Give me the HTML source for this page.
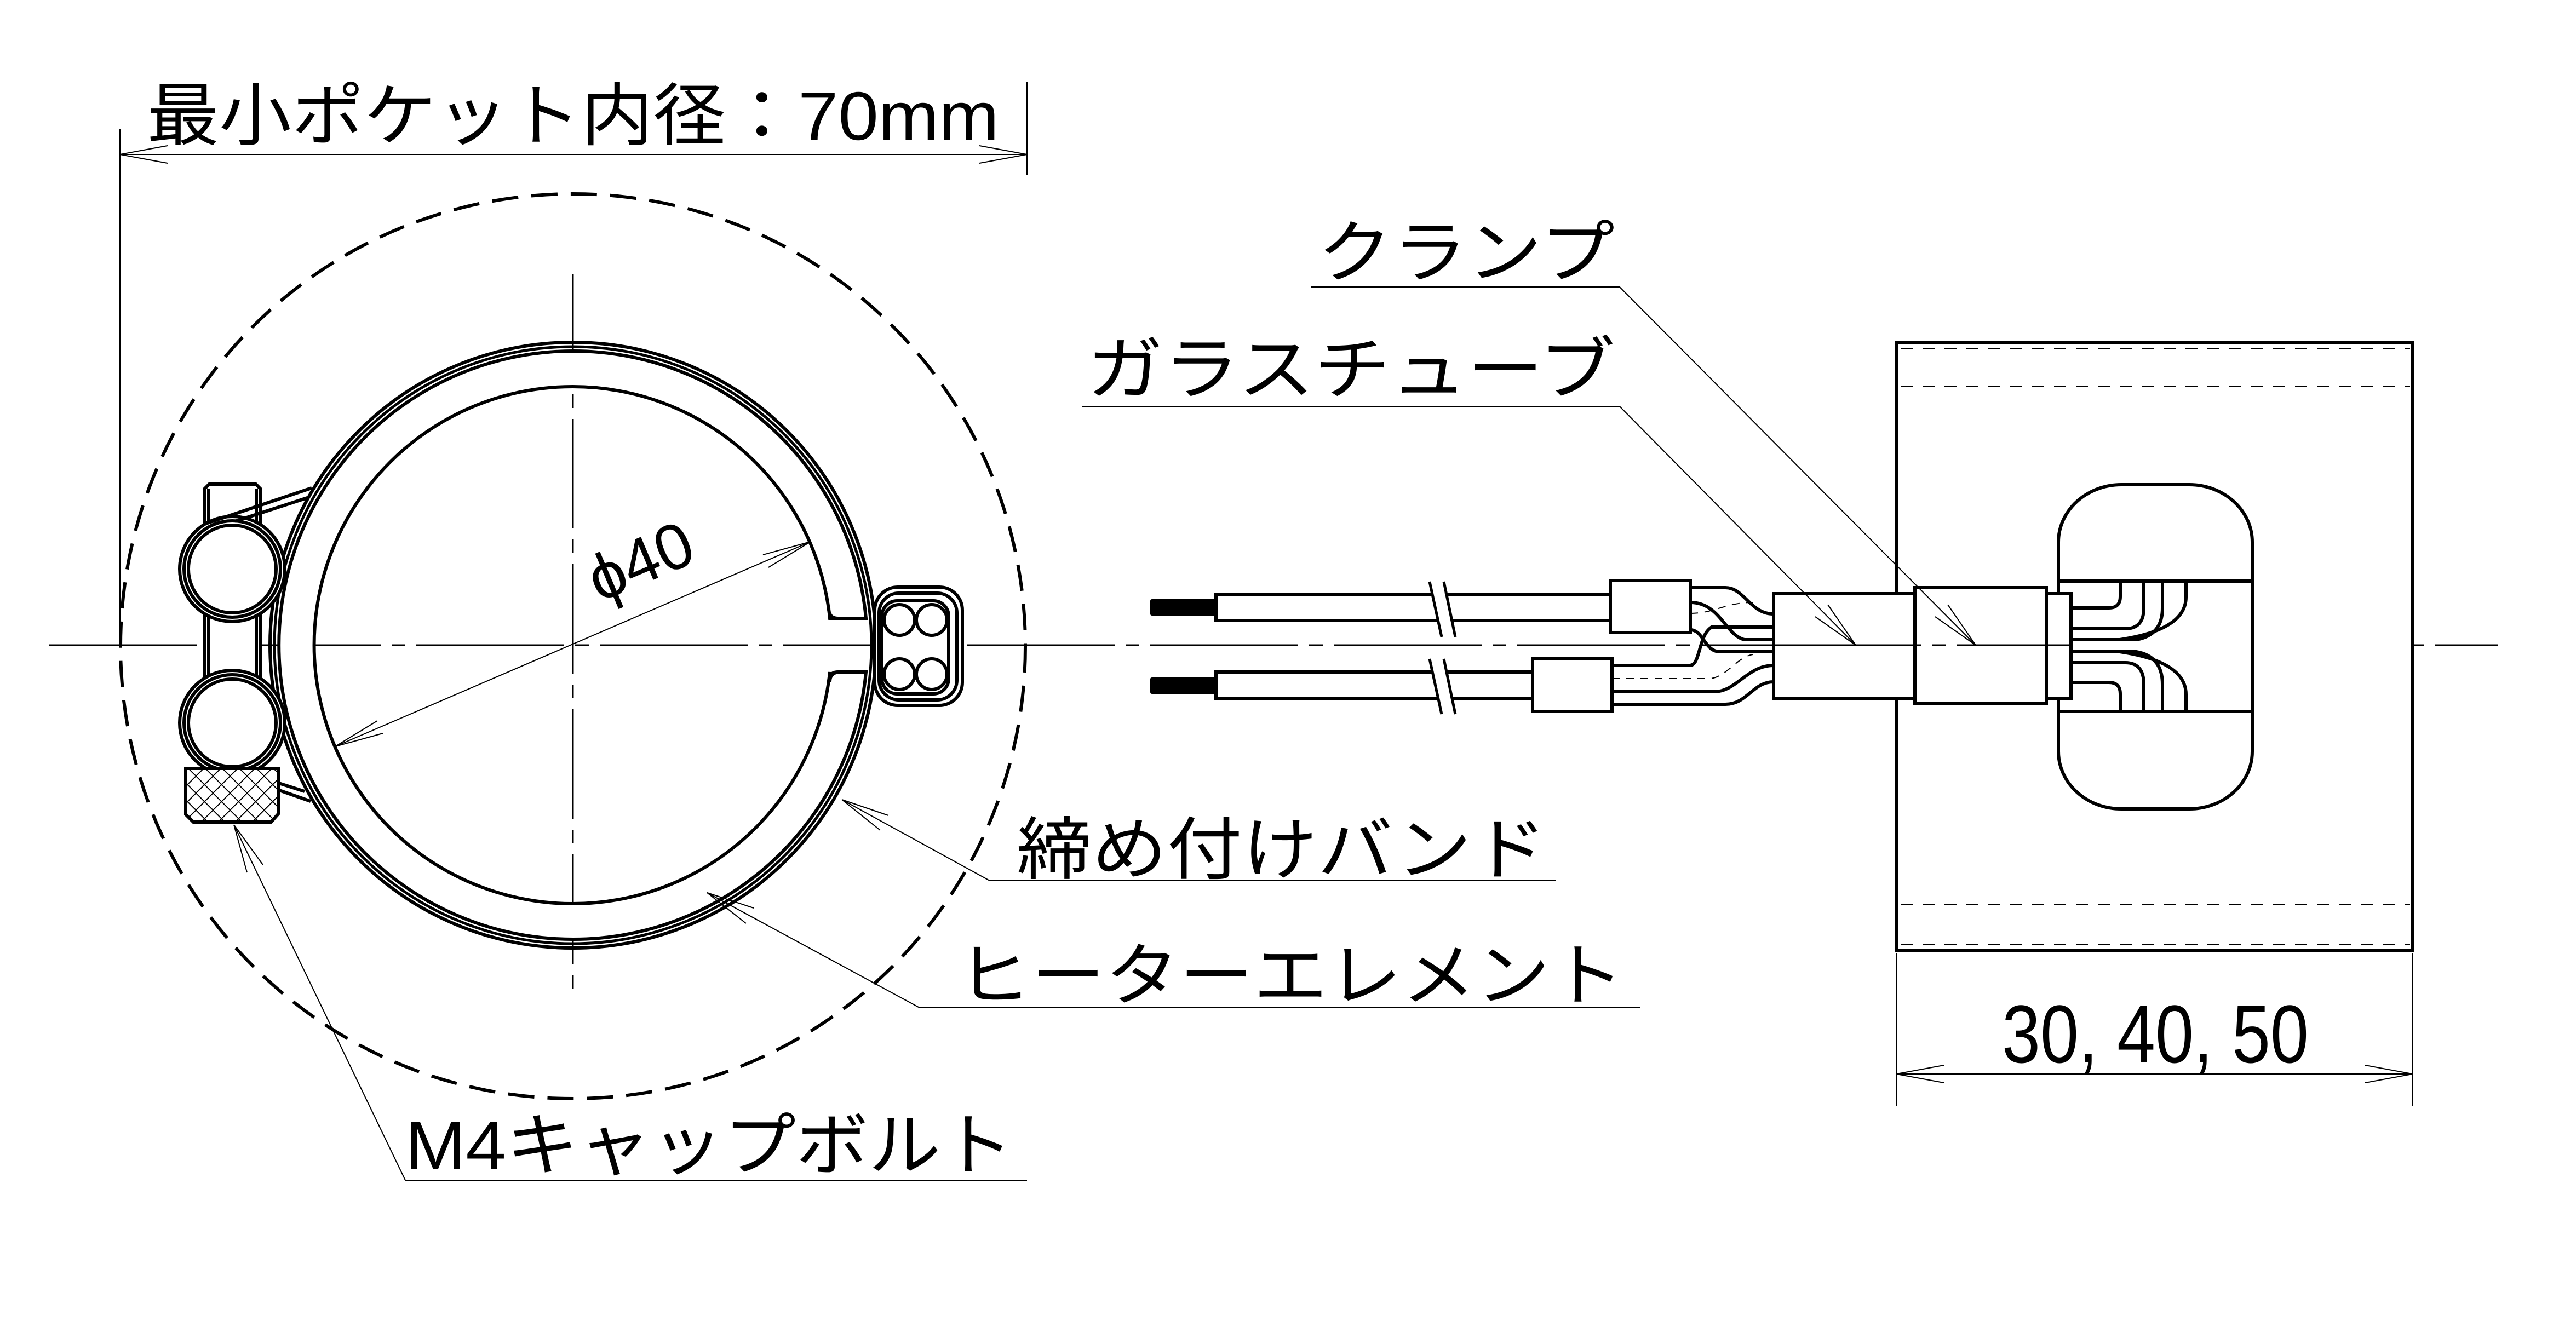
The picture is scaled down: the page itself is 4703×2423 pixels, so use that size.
<!DOCTYPE html>
<html><head><meta charset="utf-8">
<style>
html,body{margin:0;padding:0;background:#fff;}
svg{display:block;}
text{font-family:"Liberation Sans","Noto Sans CJK JP",sans-serif;fill:#000;}
</style></head>
<body>
<svg width="4703" height="2423" viewBox="0 0 4703 2423" xmlns="http://www.w3.org/2000/svg">
<defs>
<pattern id="hx" width="22" height="22" patternUnits="userSpaceOnUse" patternTransform="rotate(45)">
<rect width="22" height="22" fill="#fff"/>
<line x1="0" y1="0" x2="0" y2="22" stroke="#000" stroke-width="4"/>
<line x1="0" y1="0" x2="22" y2="0" stroke="#000" stroke-width="4"/>
</pattern>
</defs>
<rect width="4703" height="2423" fill="#fff"/>

<line x1="90" y1="1178" x2="4560" y2="1178" stroke="#000" stroke-width="3" stroke-dasharray="270 20 25 20"/>
<line x1="1046" y1="500" x2="1046" y2="1825" stroke="#000" stroke-width="3" stroke-dasharray="200 20 25 20"/>

<g stroke="#000" stroke-width="2" fill="none">
<line x1="219" y1="235" x2="219" y2="1175"/>
<line x1="1875" y1="150" x2="1875" y2="320"/>
<line x1="219" y1="282" x2="1875" y2="282"/>
<polyline points="306,266 219,282 306,298"/>
<polyline points="1788,266 1875,282 1788,298"/>
</g>
<text x="268" y="255" font-size="125" textLength="1556" lengthAdjust="spacingAndGlyphs">最小ポケット内径：70mm</text>

<circle cx="1046" cy="1180" r="826" fill="none" stroke="#000" stroke-width="6" stroke-dasharray="48 24"/>

<circle cx="1046" cy="1178" r="553" fill="none" stroke="#000" stroke-width="6"/>
<circle cx="1046" cy="1178" r="545" fill="none" stroke="#000" stroke-width="5"/>
<path d="M1581,1129 A537,537 0 1 0 1581,1227 L1535,1227 Q1515,1227 1515,1245 L1515,1227 A472,472 0 1 1 1515,1129 Q1515,1129 1535,1129 Z" fill="#fff" stroke="#000" stroke-width="6"/>
<path d="M1581,1129 L1530,1129 Q1513,1129 1513,1110 M1581,1227 L1530,1227 Q1513,1227 1513,1246" fill="none" stroke="#000" stroke-width="6"/>

<rect x="1597" y="1072" width="160" height="216" rx="42" fill="#fff" stroke="#000" stroke-width="6"/>
<rect x="1605" y="1083" width="142" height="195" rx="36" fill="none" stroke="#000" stroke-width="6"/>
<rect x="1610" y="1097" width="122" height="170" rx="28" fill="none" stroke="#000" stroke-width="6"/>
<g fill="#fff" stroke="#000" stroke-width="6">
<circle cx="1642" cy="1132" r="28"/><circle cx="1701" cy="1132" r="28"/>
<circle cx="1642" cy="1231" r="28"/><circle cx="1701" cy="1231" r="28"/>
</g>

<g stroke="#000" stroke-width="6" fill="#fff">
<path d="M374,1400 L374,892 L382,884 L467,884 L475,892 L475,1400 Z"/>
<line x1="381" y1="892" x2="381" y2="1400"/>
<line x1="468" y1="892" x2="468" y2="1400"/>
</g>
<g stroke="#000" stroke-width="6" fill="none">
<circle cx="424" cy="1039" r="96" fill="#fff"/>
<circle cx="424" cy="1039" r="88"/>
<circle cx="424" cy="1320" r="96" fill="#fff"/>
<circle cx="424" cy="1320" r="88"/>
<line x1="376" y1="956" x2="569" y2="891"/>
<line x1="429" y1="952" x2="561" y2="909"/>
<line x1="387" y1="1400" x2="567" y2="1463"/>
<line x1="400" y1="1395" x2="556" y2="1445"/>
</g>
<circle cx="424" cy="1039" r="80" fill="#fff" stroke="#000" stroke-width="6"/>
<circle cx="424" cy="1320" r="80" fill="#fff" stroke="#000" stroke-width="6"/>
<path d="M339,1403 L509,1403 L509,1485 L495,1501 L353,1501 L339,1487 Z" fill="url(#hx)" stroke="#000" stroke-width="6"/>

<g stroke="#000" stroke-width="2" fill="none">
<line x1="612" y1="1363" x2="1480" y2="989"/>
<polyline points="1403,1036 1480,989 1393,1013"/>
<polyline points="699,1339 612,1363 689,1316"/>
</g>
<text x="1185" y="1062" font-size="118" text-anchor="middle" transform="rotate(-23 1185 1062)">ϕ40</text>

<g stroke="#000" stroke-width="2" fill="none">
<polyline points="2840,1607 1805,1607 1537,1460"/>
<polyline points="1622,1489 1537,1460 1607,1516"/>
<polyline points="2995,1839 1677,1839 1291,1630"/>
<polyline points="1376,1658 1291,1630 1362,1686"/>
<polyline points="1875,2155 740,2155 427,1506"/>
<polyline points="480,1579 427,1506 451,1593"/>
</g>
<text x="1856" y="1595" font-size="125" textLength="968" lengthAdjust="spacingAndGlyphs">締め付けバンド</text>
<text x="1747" y="1825" font-size="125" textLength="1218" lengthAdjust="spacingAndGlyphs">ヒーターエレメント</text>
<text x="740" y="2135" font-size="125" textLength="1110" lengthAdjust="spacingAndGlyphs">M4キャップボルト</text>

<rect x="3462" y="625" width="943" height="1110" fill="#fff" stroke="#000" stroke-width="6"/>
<g stroke="#000" stroke-width="2" stroke-dasharray="22 18">
<line x1="3470" y1="636" x2="4400" y2="636"/>
<line x1="3470" y1="705" x2="4400" y2="705"/>
<line x1="3470" y1="1652" x2="4400" y2="1652"/>
<line x1="3470" y1="1724" x2="4400" y2="1724"/>
</g>
<rect x="3758" y="885" width="354" height="592" rx="115" ry="105" fill="#fff" stroke="#000" stroke-width="6"/>
<g stroke="#000" stroke-width="6" fill="none">
<line x1="3758" y1="1061" x2="4112" y2="1061"/>
<line x1="3758" y1="1299" x2="4112" y2="1299"/>
<path d="M3781,1110 L3850,1110 Q3871,1110 3871,1089 L3871,1061"/>
<path d="M3781,1148 L3880,1148 Q3914,1148 3914,1110 L3914,1061"/>
<path d="M3781,1168 L3900,1168 Q3948,1160 3948,1110 L3948,1061"/>
<path d="M3870,1168 Q3991,1150 3991,1090 L3991,1061"/>
<path d="M3781,1246 L3850,1246 Q3871,1246 3871,1267 L3871,1299"/>
<path d="M3781,1210 L3880,1210 Q3914,1210 3914,1250 L3914,1299"/>
<path d="M3781,1190 L3900,1190 Q3948,1198 3948,1250 L3948,1299"/>
<path d="M3870,1190 Q3991,1208 3991,1268 L3991,1299"/>
</g>

<g stroke="#000" stroke-width="6" fill="none">
<path d="M3086,1073 L3150,1073 C3185,1073 3195,1121 3238,1121"/>
<path d="M3086,1100 C3140,1100 3150,1160 3185,1168 L3238,1168"/>
<path d="M3086,1150 C3110,1150 3112,1190 3140,1190 L3238,1190"/>
<path d="M2943,1215 L3085,1215 C3105,1215 3100,1160 3125,1145 L3238,1145"/>
<path d="M2943,1263 L3130,1263 C3170,1263 3190,1215 3238,1215"/>
<path d="M2943,1286 L3150,1286 C3190,1286 3200,1245 3238,1245"/>
</g>
<g stroke="#000" stroke-width="2" fill="none" stroke-dasharray="14 12">
<path d="M2943,1239 L3120,1239 C3150,1239 3170,1200 3200,1195"/>
<path d="M3086,1120 C3130,1120 3150,1100 3200,1100"/>
</g>
<g stroke="#000" stroke-width="6" fill="#fff">
<rect x="2940" y="1060" width="146" height="95"/>
<rect x="2798" y="1203" width="145" height="96"/>
<rect x="3238" y="1084" width="258" height="192"/>
<rect x="3496" y="1073" width="240" height="212"/>
<rect x="3736" y="1084" width="45" height="192"/>
</g>
<line x1="3238" y1="1178" x2="3781" y2="1178" stroke="#000" stroke-width="3" stroke-dasharray="270 20 25 20"/>
<g stroke="#000" stroke-width="6" fill="none">
<path d="M2940,1085 L2220,1085 L2220,1133 L2940,1133"/>
<path d="M2798,1227 L2220,1227 L2220,1275 L2798,1275"/>
</g>
<rect x="2100" y="1094" width="120" height="30" rx="3" fill="#000"/>
<rect x="2100" y="1237" width="120" height="30" rx="3" fill="#000"/>
<polygon points="2612,1075 2636,1075 2652,1150 2628,1150" fill="#fff"/>
<polygon points="2614,1215 2638,1215 2652,1290 2628,1290" fill="#fff"/>
<g stroke="#000" stroke-width="5">
<line x1="2610" y1="1062" x2="2632" y2="1163"/>
<line x1="2636" y1="1062" x2="2657" y2="1163"/>
<line x1="2610" y1="1203" x2="2632" y2="1304"/>
<line x1="2636" y1="1203" x2="2657" y2="1304"/>
</g>

<g stroke="#000" stroke-width="2" fill="none">
<polyline points="2393,524 2957,524 3607,1178"/>
<polyline points="3533,1126 3607,1178 3556,1104"/>
<polyline points="1975,742 2957,742 3388,1178"/>
<polyline points="3314,1126 3388,1178 3337,1104"/>
</g>
<text x="2405" y="505" font-size="125" textLength="543" lengthAdjust="spacingAndGlyphs">クランプ</text>
<text x="1984" y="718" font-size="125" textLength="965" lengthAdjust="spacingAndGlyphs">ガラスチューブ</text>

<g stroke="#000" stroke-width="2" fill="none">
<line x1="3462" y1="1740" x2="3462" y2="2020"/>
<line x1="4405" y1="1740" x2="4405" y2="2020"/>
<line x1="3462" y1="1961" x2="4405" y2="1961"/>
<polyline points="3549,1945 3462,1961 3549,1977"/>
<polyline points="4318,1945 4405,1961 4318,1977"/>
</g>
<text x="3655" y="1940" font-size="150" textLength="560" lengthAdjust="spacingAndGlyphs">30, 40, 50</text>
</svg>
</body></html>
